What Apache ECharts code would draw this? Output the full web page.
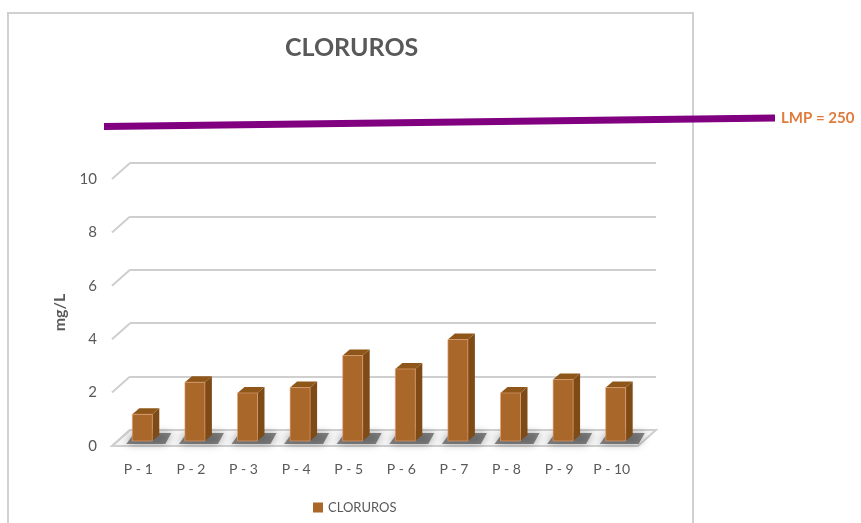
<!DOCTYPE html>
<html>
<head>
<meta charset="utf-8">
<script src="https://cdn.jsdelivr.net/npm/echarts@6/dist/echarts.min.js"></script>
<style>
  html, body { margin: 0; padding: 0; background: #fff; }
  #chart { width: 861px; height: 523px; }
</style>
</head>
<body>
<div id="chart"></div>
<script>
// data
const categories = ['P - 1', 'P - 2', 'P - 3', 'P - 4', 'P - 5', 'P - 6', 'P - 7', 'P - 8', 'P - 9', 'P - 10']
const cloruros = [1.0, 2.2, 1.8, 2.0, 3.2, 2.7, 3.8, 1.8, 2.3, 2.0]
const yTicks = [0, 2, 4, 6, 8, 10]
const lmpLabel = 'LMP = 250'

const FONT = 'Lato, "Open Sans", sans-serif'
const GRAY = '#595959'
const GRID_LINE = '#CFCFCF'
// offset between the front edge and the back wall (fake 3D)
const DEPTH_X = 18
const DEPTH_Y = -16

const chart = echarts.init(document.getElementById('chart'))

// 3D-looking bar: front face, top and right side
function renderBar(params, api) {
  const i = api.value(0)
  const v = api.value(1)
  const top = api.coord([i, v])
  const base = api.coord([i, 0])
  const bw = api.size([1, 0])[0] * 0.38
  const x0 = top[0] - bw / 2 + 4
  const x1 = x0 + bw
  const yt = top[1] - 5
  const yb = base[1] - 5
  const dx = 7, dy = -6
  return {
    type: 'group',
    children: [
      // soft shadow on the floor
      {
        type: 'polygon',
        shape: { points: [[x0 - 6, yb + 3], [x1 + dx + 6, yb + 3], [x1 + dx + 12, yb + dy - 2], [x0 + 2, yb + dy - 2]] },
        style: { fill: 'rgba(60,60,60,0.6)', shadowBlur: 8, shadowColor: 'rgba(0,0,0,0.6)' },
      },
      {
        type: 'polygon',
        shape: { points: [[x1, yt], [x1 + dx, yt + dy], [x1 + dx, yb + dy], [x1, yb]] },
        style: { fill: '#7E4A15' },
      },
      {
        type: 'polygon',
        shape: { points: [[x0, yt], [x1, yt], [x1 + dx, yt + dy], [x0 + dx, yt + dy]] },
        style: { fill: '#8E5719' },
      },
      {
        type: 'rect',
        shape: { x: x0, y: yt, width: bw, height: yb - yt },
        style: { fill: '#A9672A', stroke: '#E8A37A', lineWidth: 0.6 },
      },
    ],
  }
}

// diagonal ticks from the axis to the back wall, plus the floor
function renderDepth(params, api) {
  const v = api.value(1)
  const p = api.coord([0, v])
  const x = p[0] - api.size([1, 0])[0] / 2
  const children = [{
    type: 'line',
    shape: { x1: x, y1: p[1], x2: x + DEPTH_X, y2: p[1] + DEPTH_Y },
    style: { stroke: GRID_LINE, lineWidth: 2 },
  }]
  if (v === 0) {
    const xr = api.coord([categories.length - 1, 0])[0] + api.size([1, 0])[0] / 2
    children.unshift({
      type: 'polygon',
      shape: { points: [[x, p[1]], [xr, p[1]], [xr + DEPTH_X, p[1] + DEPTH_Y], [x + DEPTH_X, p[1] + DEPTH_Y]] },
      style: { fill: '#F7F7F7', stroke: GRID_LINE, lineWidth: 2 },
    })
  }
  return { type: 'group', children }
}

const option = {
  animation: false,
  title: {
    text: 'CLORUROS',
    left: 280,
    top: 30,
    textStyle: { fontFamily: FONT, fontSize: 25, fontWeight: 'bold', color: GRAY },
  },
  legend: {
    data: ['CLORUROS'],
    bottom: 4,
    left: 308,
    icon: 'rect',
    itemWidth: 10,
    itemHeight: 10,
    itemGap: 4,
    textStyle: { fontFamily: FONT, fontSize: 13, color: GRAY },
  },
  grid: [
    { left: 112, right: 223, top: 179, bottom: 77 },
    { left: 112 + DEPTH_X, right: 223 - DEPTH_X, top: 179 + DEPTH_Y, bottom: 77 - DEPTH_Y },
  ],
  xAxis: [
    {
      gridIndex: 0,
      type: 'category',
      data: categories,
      axisLine: { show: false },
      axisTick: { show: false },
      axisLabel: { margin: 16, fontFamily: FONT, fontSize: 14, color: GRAY },
    },
    { gridIndex: 1, type: 'value', min: 0, max: 1, show: false },
  ],
  yAxis: [
    {
      gridIndex: 0,
      type: 'value',
      min: 0,
      max: 10,
      interval: 2,
      name: 'mg/L',
      nameLocation: 'middle',
      nameRotate: 90,
      nameGap: 44,
      nameTextStyle: { fontFamily: FONT, fontSize: 16, fontWeight: 'bold', color: GRAY },
      axisLine: { show: false },
      axisTick: { show: false },
      splitLine: { show: false },
      axisLabel: { margin: 15, fontFamily: FONT, fontSize: 15, color: GRAY },
    },
    {
      gridIndex: 1,
      type: 'value',
      min: 0,
      max: 10,
      interval: 2,
      axisLine: { show: false },
      axisTick: { show: false },
      axisLabel: { show: false },
      splitLine: { lineStyle: { color: GRID_LINE, width: 2 } },
    },
  ],
  series: [
    {
      name: 'depth',
      type: 'custom',
      xAxisIndex: 0,
      yAxisIndex: 0,
      renderItem: renderDepth,
      data: yTicks.map(v => [0, v]),
      silent: true,
      z: 1,
    },
    {
      name: 'CLORUROS',
      type: 'custom',
      xAxisIndex: 0,
      yAxisIndex: 0,
      renderItem: renderBar,
      itemStyle: { color: '#A9672A' },
      encode: { x: 0, y: 1 },
      data: cloruros.map((v, i) => [i, v]),
      z: 3,
    },
  ],
  graphic: [
    // chart area frame
    {
      type: 'rect',
      shape: { x: 8, y: 13, width: 685, height: 530 },
      style: { fill: 'none', stroke: '#D0D0D0', lineWidth: 2 },
      z: 0,
    },
    // LMP annotation
    {
      type: 'line',
      shape: { x1: 104, y1: 126.5, x2: 775, y2: 118 },
      style: { stroke: '#800080', lineWidth: 7 },
      z: 10,
    },
    {
      type: 'text',
      left: 781,
      top: 111,
      style: { text: lmpLabel, fontFamily: FONT, fontSize: 15, fontWeight: 'bold', fill: '#E07B3C' },
      z: 10,
    },
  ],
}

chart.setOption(option)
</script>
</body>
</html>
